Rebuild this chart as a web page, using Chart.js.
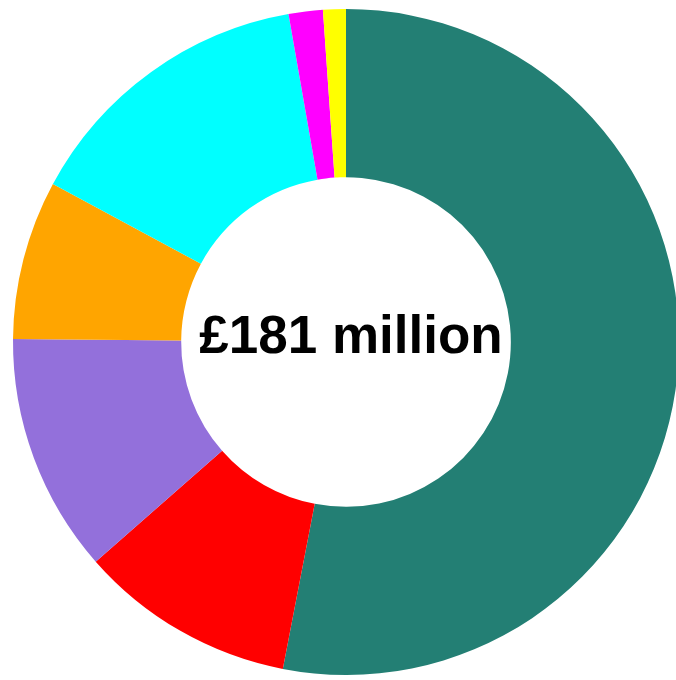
<!DOCTYPE html>
<html>
<head>
<meta charset="utf-8">
<script src="https://cdn.jsdelivr.net/npm/chart.js@4"></script>
<style>
  html, body { margin: 0; padding: 0; background: #fff; overflow: hidden; }
  #wrap { position: absolute; left: 0; top: 0; width: 692px; height: 684px; }
</style>
</head>
<body>
<div id="wrap"><canvas id="chart"></canvas></div>
<script>
const categories = ['Teal', 'Red', 'Purple', 'Orange', 'Cyan', 'Magenta', 'Yellow'];
const values = [96, 19, 21, 14, 26, 3, 2]; // £ million
const colours = ['#237f74', '#ff0000', '#9370db', '#ffa500', '#00ffff', '#ff00ff', '#ffff00'];
const centreLabel = '£181 million';

const centreText = { // draws the total in the hole
  id: 'centreText',
  afterDraw(chart) {
    const ctx = chart.ctx;
    const arc = chart.getDatasetMeta(0).data[0];
    ctx.save();
    ctx.fillStyle = '#000';
    ctx.font = 'bold 53px Arial, Helvetica, sans-serif';
    ctx.textAlign = 'center';
    ctx.textBaseline = 'middle';
    ctx.fillText(centreLabel, arc.x + 5, arc.y - 4);
    ctx.restore();
  }
};

new Chart(document.getElementById('chart'), {
  type: 'doughnut',
  data: {
    labels: categories,
    datasets: [{
      data: values,
      backgroundColor: colours,
      borderWidth: 0
    }]
  },
  options: {
    responsive: true,
    maintainAspectRatio: false,
    animation: false,
    cutout: '49.5%',
    layout: { padding: 9 },
    plugins: {
      legend: { display: false },
      tooltip: { enabled: false }
    }
  },
  plugins: [centreText]
});
</script>
</body>
</html>
